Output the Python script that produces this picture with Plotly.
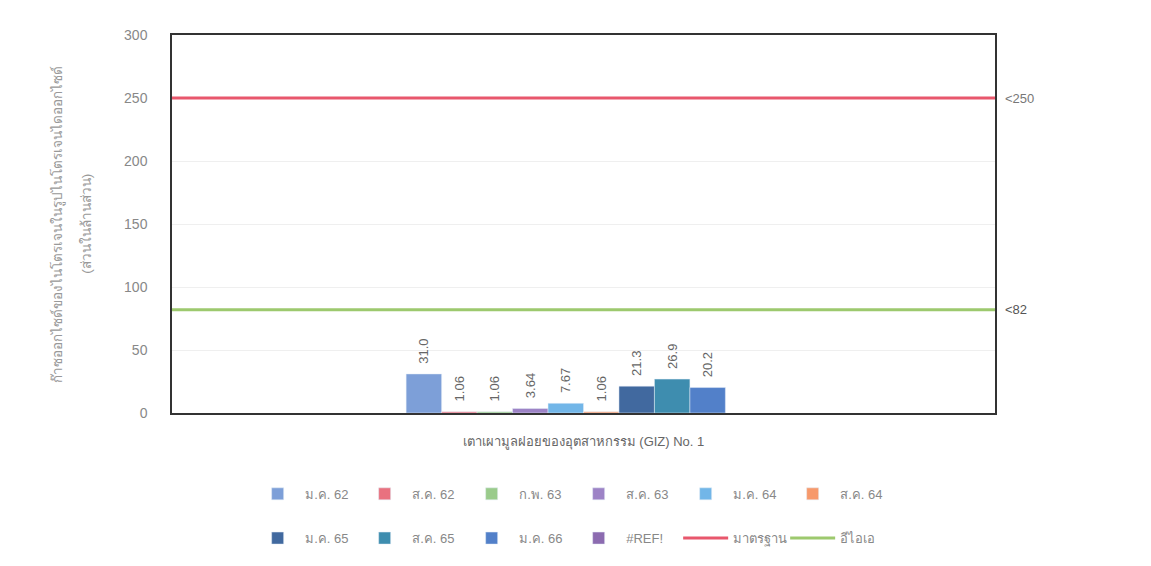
import plotly.graph_objects as go

category = ["เตาเผามูลฝอยของอุตสาหกรรม (GIZ) No. 1"]
series_names = ["ม.ค. 62", "ส.ค. 62", "ก.พ. 63", "ส.ค. 63", "ม.ค. 64",
                "ส.ค. 64", "ม.ค. 65", "ส.ค. 65", "ม.ค. 66", "#REF!"]
series_values = [31.0, 1.06, 1.06, 3.64, 7.67, 1.06, 21.3, 26.9, 20.2, None]
series_labels = ["31.0", "1.06", "1.06", "3.64", "7.67", "1.06", "21.3", "26.9", "20.2", ""]
series_colors = ["#7D9FD8", "#E9717F", "#9ACB8B", "#9D83C6", "#72B6E8",
                 "#F7996B", "#41699F", "#3E8DAF", "#5280C9", "#8C6BB0"]

standard_name = "มาตรฐาน"
standard_value = 250
standard_label = "<250"
eia_name = "อีไอเอ"
eia_value = 82
eia_label = "<82"

y_ticks = [0, 50, 100, 150, 200, 250, 300]
y_title_1 = "ก๊าซออกไซด์ของไนโตรเจนในรูปไนโตรเจนไดออกไซด์"
y_title_2 = "(ส่วนในล้านส่วน)"

fig = go.Figure()
for i, (name, v, lab, col) in enumerate(zip(series_names, series_values, series_labels, series_colors)):
    fig.add_trace(go.Bar(
        x=category, y=[v], name=name, marker_color=col,
        text=[("\u00a0\u00a0" + lab) if lab else ""], textposition="outside", textangle=-90,
        textfont=dict(color="#666666", size=13, family="Liberation Sans"),
        cliponaxis=False, legend="legend" if i < 6 else "legend2",
    ))

for name, v, col in [(standard_name, standard_value, "#E8576C"), (eia_name, eia_value, "#9DC96E")]:
    fig.add_trace(go.Scatter(
        x=[0, 1], y=[v, v], mode="lines", name=name,
        line=dict(color=col, width=3), xaxis="x2", legend="legend2",
    ))

fig.update_layout(
    width=1151, height=566,
    margin=dict(l=172, r=156, t=35, b=153),
    paper_bgcolor="white", plot_bgcolor="white",
    barmode="group", bargap=0.569, bargroupgap=0,
    font=dict(family="Liberation Sans", color="#888888", size=13),
    xaxis=dict(showgrid=False, showline=True, linecolor="#333333", linewidth=1.5,
               mirror=True, ticks="", ticklabelstandoff=16,
               tickfont=dict(size=13, color="#666666")),
    xaxis2=dict(overlaying="x", range=[0, 1], visible=False),
    yaxis=dict(range=[0, 300], tickvals=y_ticks, showgrid=True, gridcolor="#EFEFEF",
               showline=True, linecolor="#333333", linewidth=1.5, mirror=True,
               tickfont=dict(size=14, color="#888888"), ticklabelstandoff=20,
               zeroline=False),
    legend=dict(orientation="h", x=0.485, xanchor="center", y=-0.214, yanchor="middle",
                font=dict(size=13, color="#888888"), entrywidth=47, itemwidth=45),
    legend2=dict(orientation="h", x=0.485, xanchor="center", y=-0.331, yanchor="middle",
                 font=dict(size=13, color="#888888"), entrywidth=47, itemwidth=45),
    showlegend=True,
)

fig.add_annotation(x=-0.153, xref="paper", y=0.5, yref="paper", text=y_title_1, textangle=-90,
                   showarrow=False, font=dict(size=13.5, color="#999999"))
fig.add_annotation(x=-0.117, xref="paper", y=0.5, yref="paper", text=y_title_2, textangle=-90,
                   showarrow=False, font=dict(size=13.5, color="#999999"))
fig.add_annotation(x=1.01, xref="paper", y=standard_value, yref="y", text=standard_label,
                   showarrow=False, xanchor="left", font=dict(size=13, color="#777777"))
fig.add_annotation(x=1.01, xref="paper", y=eia_value, yref="y", text=eia_label,
                   showarrow=False, xanchor="left", font=dict(size=13, color="#555555"))

fig.write_html("out.html")
